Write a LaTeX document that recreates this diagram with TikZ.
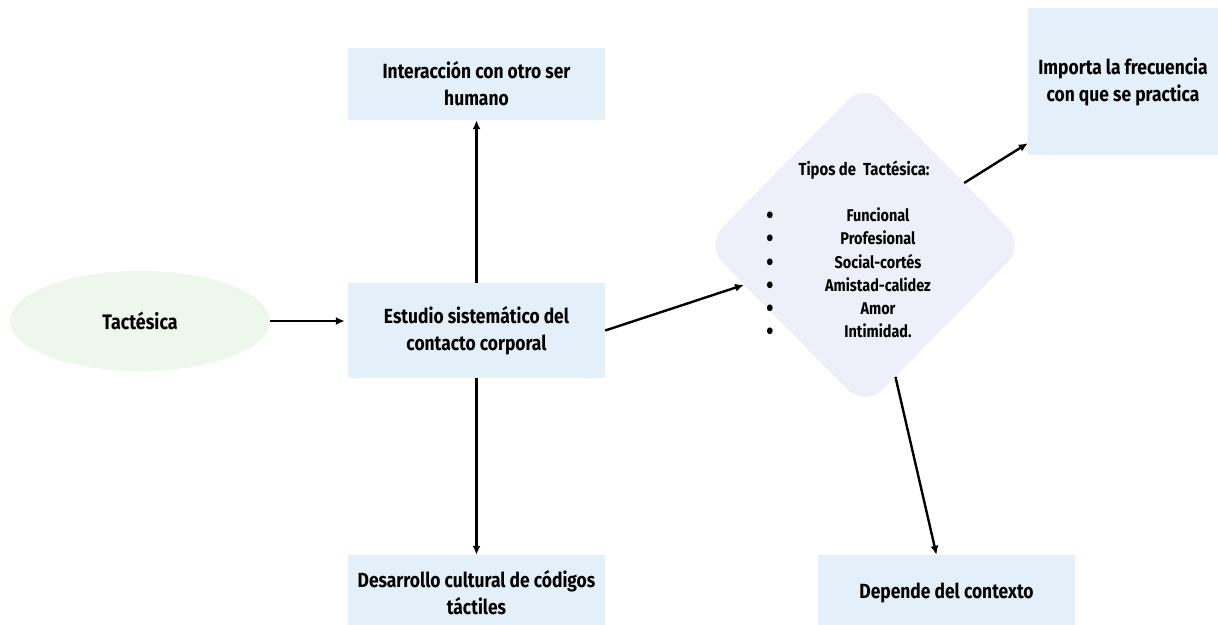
\documentclass[tikz,border=0pt]{standalone}
\usepackage{fontspec}
\setmainfont{Fira Sans}[FakeStretch=0.85]
\usetikzlibrary{shapes.geometric,arrows.meta}
\definecolor{cajaazul}{RGB}{227,240,250}
\definecolor{elipseverde}{RGB}{237,247,236}
\definecolor{rombolila}{RGB}{239,239,250}

\begin{document}
\begin{tikzpicture}[x=1pt,y=-1pt,
  caja/.style={rectangle, fill=cajaazul, inner sep=0pt, align=center, font=\bfseries\fontsize{20.5}{27}\selectfont},
  lista/.style={inner sep=0pt, font=\bfseries\fontsize{17}{23.2}\selectfont},
  flecha/.style={->, line width=2.4pt},
  >={Latex[length=9pt,width=8pt]}]
\useasboundingbox (0,0) rectangle (1218,624);

\node[ellipse, fill=elipseverde, minimum width=260pt, minimum height=100pt, font=\bfseries\fontsize{21}{27}\selectfont] (tactesica) at (140,321) {Tactésica};

\node[caja, minimum width=257pt, minimum height=95pt] (estudio) at (476.5,330.5) {Estudio sistemático del\\contacto corporal};
\node[caja, minimum width=257pt, minimum height=72pt] (interaccion) at (476.5,84) {Interacción con otro ser\\humano};
\node[caja, minimum width=257pt, minimum height=75pt] (desarrollo) at (476.5,592.5) {Desarrollo cultural de códigos\\táctiles};

\node[diamond, fill=rombolila, rounded corners=25pt, inner sep=0pt, minimum width=320pt, minimum height=325pt] (tipos) at (865,245) {};
\node[lista, font=\bfseries\fontsize{17.5}{23.2}\selectfont] (titulo) at (864,170) {Tipos de~ Tactésica:};
\node[lista, align=left, font=\bfseries\fontsize{24}{23.2}\selectfont] (vinetas) at (770,276) {\textbullet\\\textbullet\\\textbullet\\\textbullet\\\textbullet\\\textbullet};
\node[lista, align=center] (clases) at (878,273) {Funcional\\Profesional\\Social-cortés\\Amistad-calidez\\Amor\\Intimidad.};

\node[caja, minimum width=190pt, minimum height=147pt] (importa) at (1123,81.5) {Importa la frecuencia\\con que se practica};
\node[caja, minimum width=257pt, minimum height=75pt] (depende) at (946.5,592.5) {Depende del contexto};

\draw[flecha, shorten >=3pt] (tactesica.east) -- (tactesica.east -| estudio.west);
\draw[flecha] (estudio) -- (interaccion);
\draw[flecha] (estudio) -- (desarrollo);
\draw[flecha] (estudio.east) -- (tipos);
\draw[flecha] (tipos) -- ([yshift=12pt]importa.south west);
\draw[flecha] (tipos) -- ([xshift=-10pt]depende.north);
\end{tikzpicture}
\end{document}
